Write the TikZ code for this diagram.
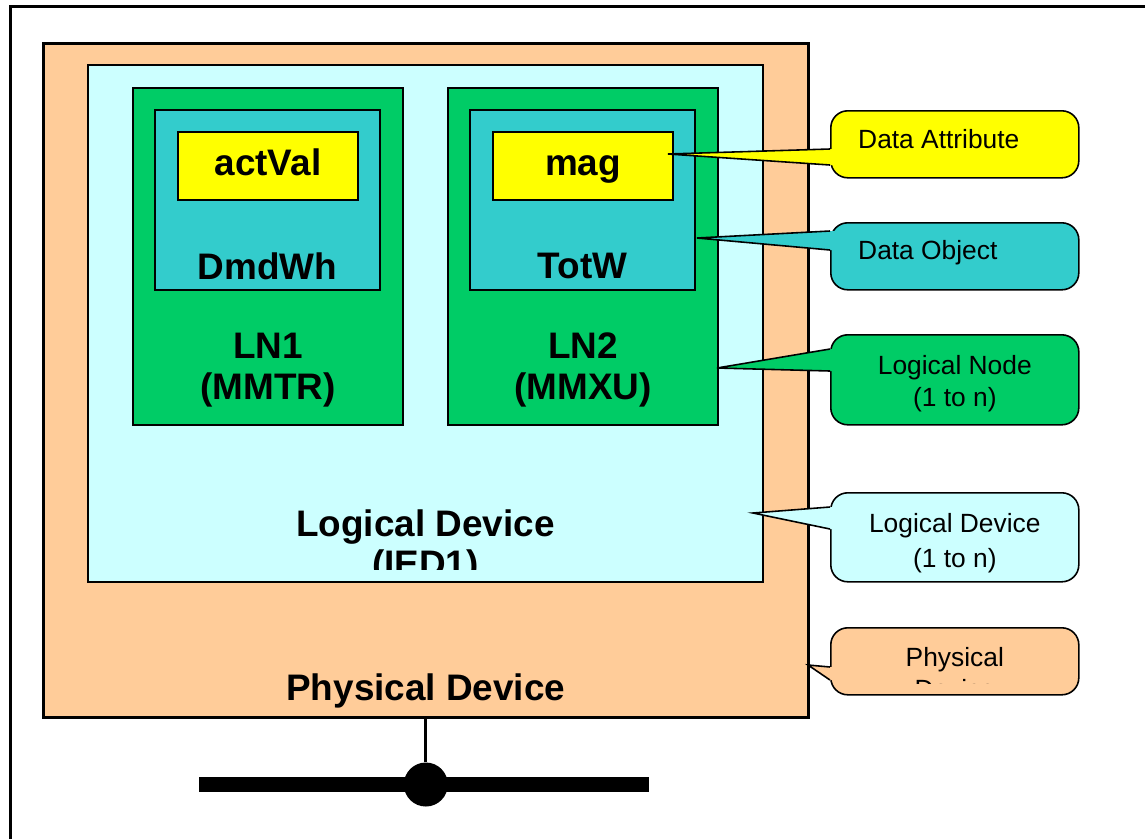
\documentclass[tikz,border=0pt]{standalone}
\usepackage{fontspec}
\setmainfont{Liberation Sans}
\usetikzlibrary{positioning}
\definecolor{peach}{HTML}{FFCC99}
\definecolor{ldcyan}{HTML}{CCFFFF}
\definecolor{lngreen}{HTML}{00CC66}
\definecolor{doteal}{HTML}{33CCCC}
\definecolor{dayellow}{HTML}{FFFF00}
\tikzset{
    box/.style={draw,line width=1.1pt,anchor=north west,inner sep=0pt},
    big/.style={font=\fontsize{21}{23}\selectfont\bfseries,align=center},
    callbox/.style={draw,line width=0.9pt,rounded corners=3.4mm,anchor=north west,minimum width=49.6mm,inner sep=0pt},
    calltext/.style={font=\fontsize{15}{18.5}\selectfont,align=center},
    tail/.style={line width=0.9pt}
}

\begin{document}
\begin{tikzpicture}[x=0.2mm,y=-0.2mm]

    \useasboundingbox (0,0) rectangle (1145,839);
    \draw[line width=1.7pt] (10.5,839) -- (10.5,6) -- (1145,6);

    % physical and logical device
    \node[box,line width=1.5pt,fill=peach,minimum width=153mm,minimum height=134.8mm] (phys) at (42,42) {};
    \node[box,fill=ldcyan,minimum width=135mm,minimum height=103.4mm] (ld) at (87,64) {};

    % logical nodes
    \node[box,fill=lngreen,minimum width=54mm,minimum height=67.4mm] (ln1) at (132,87) {};
    \node[box,fill=lngreen,minimum width=54mm,minimum height=67.4mm] (ln2) at (447,87) {};

    \node[box,fill=doteal,minimum width=45mm,minimum height=36mm] (do1) at ([xshift=4.4mm,yshift=-4.4mm]ln1.north west) {};
    \node[box,fill=doteal,minimum width=45mm,minimum height=36mm] (do2) at ([xshift=4.4mm,yshift=-4.4mm]ln2.north west) {};

    \node[box,big,fill=dayellow,minimum width=36mm,minimum height=13.6mm,text height=15pt,text depth=4.5pt] (da1) at ([xshift=4.6mm,yshift=-4.4mm]do1.north west) {actVal};
    \node[box,big,fill=dayellow,minimum width=36mm,minimum height=13.6mm,text height=15pt,text depth=4.5pt] (da2) at ([xshift=4.6mm,yshift=-4.4mm]do2.north west) {mag};

    \node[big] (do1 text) at ([yshift=5mm]do1.south) {DmdWh};
    \node[big] (do2 text) at ([yshift=5mm]do2.south) {TotW};
    \node[big] (ln1 text) at ([yshift=11.2mm]ln1.south) {LN1\\(MMTR)};
    \node[big] (ln2 text) at ([yshift=11.2mm]ln2.south) {LN2\\(MMXU)};

    \begin{scope}
        \clip (ld.north west) rectangle ([yshift=2.6mm]ld.south east);
        \node[big] (ld text) at ([yshift=7.2mm]ld.south) {Logical Device\\(IED1)};
    \end{scope}
    \node[big] (phys text) at ([yshift=5.6mm]phys.south) {Physical Device};

    % network connection
    \coordinate (bus west) at (199,784.5);
    \coordinate (bus east) at (649,784.5);
    \node[circle,fill=black,minimum size=8.8mm,inner sep=0pt] (tap) at (phys.south |- bus west) {};
    \draw[line width=8.5pt] (bus west) -- (bus east);
    \draw[line width=1.7pt] (phys.south) -- (tap);

    % callouts
    \node[callbox,fill=dayellow,minimum height=13.4mm] (cDA) at (830,110) {};
    \node[callbox,fill=doteal,minimum height=13.4mm] (cDO) at (830,222) {};
    \node[callbox,fill=lngreen,minimum height=18mm] (cLN) at (830,334) {};
    \node[callbox,fill=ldcyan,minimum height=17.8mm] (cLD) at (830,492) {};
    \node[callbox,fill=peach,minimum height=13.4mm] (cPD) at (830,627) {};

    \foreach \col/\tx/\ty/\ya/\yb in {dayellow/668/154/149/165,doteal/697/238/231/250,
            lngreen/717/368/349/371,ldcyan/753/513/507/529,peach/808/665/667/680} {
        \fill[\col] (\tx,\ty) -- (830,\ya) -- (835,\ya) -- (835,\yb) -- (830,\yb) -- cycle;
        \draw[tail] (830,\ya) -- (\tx,\ty) -- (830,\yb);
    }

    \node[calltext,anchor=west] (cDA text) at ([xshift=4.4mm,yshift=1.1mm]cDA.west) {Data Attribute};
    \node[calltext,anchor=west] (cDO text) at ([xshift=4.4mm,yshift=0.8mm]cDO.west) {Data Object};
    \node[calltext] (cLN text) at ([yshift=-0.8mm]cLN.center) {Logical Node\\(1 to n)};
    \node[calltext] (cLD text) at ([yshift=-1.2mm]cLD.center) {Logical Device\\[1pt](1 to n)};
    \begin{scope}
        \clip (cPD.north west) rectangle (1078,683);
        \node[calltext] (cPD text) at ([yshift=-2.4mm]cPD.center) {Physical\\Device};
    \end{scope}

\end{tikzpicture}
\end{document}
